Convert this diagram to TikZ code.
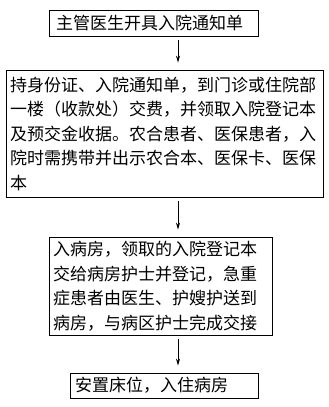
\documentclass[tikz,border=0pt]{standalone}
\usepackage{fontspec}
\newfontfamily\cjk{Noto Sans CJK SC}
\usetikzlibrary{arrows.meta}
\begin{document}
\begin{tikzpicture}[x=1pt,y=-1pt,
  box/.style={draw,line width=0.8pt,inner sep=0pt,align=left,
    font=\cjk\fontsize{17}{24.5}\selectfont},
  arr/.style={line width=0.7pt,-{Stealth[length=7pt,width=4pt]},shorten <=4pt,shorten >=7pt}]
\useasboundingbox (0,0) rectangle (329,407);
\node[box,minimum width=209pt,minimum height=26pt,text width=195pt] (b1) at (153.5,23) {主管医生开具入院通知单};
\node[box,minimum width=317pt,minimum height=127pt,text width=309pt] (b2) at (164.5,133.5)
 {持身份证、入院通知单，到门诊或住院部\\一楼（收款处）交费，并领取入院登记本\\及预交金收据。农合患者、医保患者，入\\院时需携带并出示农合本、医保卡、医保\\本};
\node[box,minimum width=223pt,minimum height=98pt,text width=215pt] (b3) at (160.5,286)
 {入病房，领取的入院登记本\\交给病房护士并登记，急重\\症患者由医生、护嫂护送到\\病房，与病区护士完成交接};
\node[box,minimum width=188pt,minimum height=25pt,text width=178pt] (b4) at (164,385.5) {安置床位，入住病房};
\coordinate (ax) at (178,0);
\draw[arr] (b1.south -| ax) -- (b2.north -| ax);
\draw[arr] (b2.south -| ax) -- (b3.north -| ax);
\draw[arr] (b3.south -| ax) -- (b4.north -| ax);
\end{tikzpicture}
\end{document}
